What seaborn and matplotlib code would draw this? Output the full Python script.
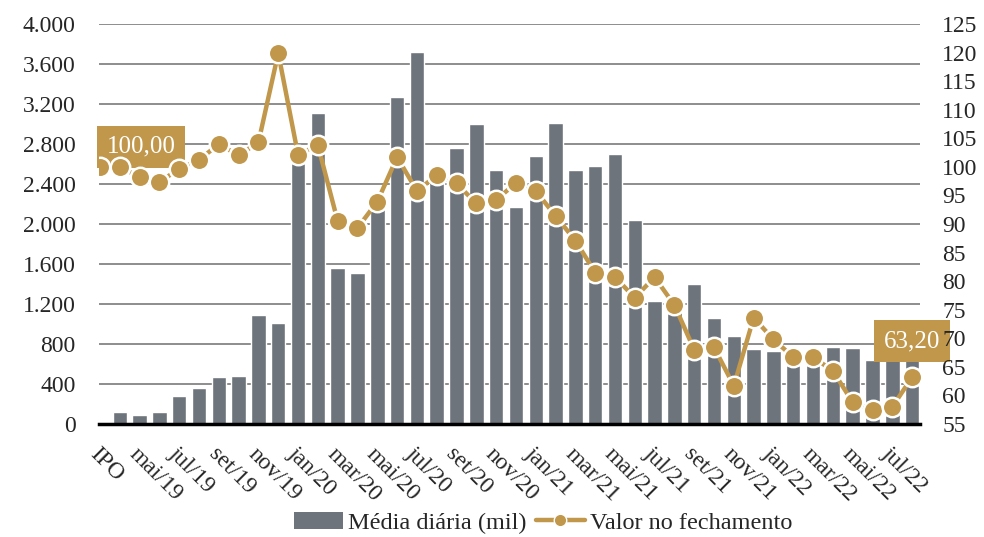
import numpy as np
import pandas as pd
import matplotlib
matplotlib.use("Agg")
import matplotlib.pyplot as plt
import seaborn as sns
from matplotlib.ticker import FuncFormatter
from matplotlib.lines import Line2D
from matplotlib.patches import Patch

# dados
meses = ["IPO", "abr/19", "mai/19", "jun/19", "jul/19", "ago/19", "set/19", "out/19",
         "nov/19", "dez/19", "jan/20", "fev/20", "mar/20", "abr/20", "mai/20", "jun/20",
         "jul/20", "ago/20", "set/20", "out/20", "nov/20", "dez/20", "jan/21", "fev/21",
         "mar/21", "abr/21", "mai/21", "jun/21", "jul/21", "ago/21", "set/21", "out/21",
         "nov/21", "dez/21", "jan/22", "fev/22", "mar/22", "abr/22", "mai/22", "jun/22",
         "jul/22", "ago/22"]
media_diaria = [0, 120, 90, 120, 285, 357, 470, 483, 1090, 1013, 2660, 3107, 1557, 1510,
                2200, 3270, 3723, 2430, 2757, 3003, 2540, 2170, 2677, 3013, 2543, 2580,
                2700, 2040, 1235, 1220, 1397, 1060, 877, 753, 727, 690, 690, 773, 760,
                640, 640, 650]
valor_fechamento = [100.0, 100.0, 98.2, 97.3, 99.7, 101.2, 104.0, 102.0, 104.3, 119.9,
                    102.1, 103.8, 90.5, 89.3, 93.9, 101.7, 95.8, 98.5, 97.1, 93.6, 94.2,
                    97.2, 95.8, 91.4, 87.1, 81.5, 80.7, 77.1, 80.7, 75.8, 68.0, 68.4,
                    61.7, 73.6, 69.8, 66.7, 66.7, 64.3, 58.8, 57.5, 58.0, 63.2]
rotulos_x = ["IPO", "mai/19", "jul/19", "set/19", "nov/19", "jan/20", "mar/20", "mai/20",
             "jul/20", "set/20", "nov/20", "jan/21", "mar/21", "mai/21", "jul/21", "set/21",
             "nov/21", "jan/22", "mar/22", "mai/22", "jul/22"]

cinza = "#6d747b"
dourado = "#c0974b"

sns.set_style("white")
plt.rcParams["font.family"] = ["Liberation Serif", "DejaVu Serif"]
plt.rcParams["font.size"] = 17

df = pd.DataFrame({"mes": meses, "media": media_diaria, "valor": valor_fechamento})
pos = np.arange(len(df))

fig = plt.figure(figsize=(9.84, 5.37), dpi=100)
ax = fig.add_axes([0.1006, 0.2104, 0.8344, 0.7449])

sns.barplot(data=df, x="mes", y="media", color=cinza, width=0.73, saturation=1,
            ax=ax, zorder=2)
ax.set_ylim(0, 4000)
ax.set_yticks(np.arange(0, 4001, 400))
ax.yaxis.set_major_formatter(FuncFormatter(lambda v, p: f"{int(v):,}".replace(",", ".")))
ax.grid(axis="y", color="#858585", linewidth=1.3, zorder=0)
ax.set_axisbelow(True)
ax.set_xlim(-0.05, 41.4)
ax.set_xticks(pos[::2])
ax.set_xticklabels(rotulos_x, rotation=-45, ha="left", va="top", rotation_mode="anchor")
ax.tick_params(axis="x", length=0, pad=14)
ax.tick_params(axis="y", length=0, pad=17)
ax.set_xlabel("")
ax.set_ylabel("")
for s in ["top", "right", "left"]:
    ax.spines[s].set_visible(False)
ax.spines["bottom"].set_color("black")
ax.spines["bottom"].set_linewidth(2.5)
ax.spines["bottom"].set_zorder(5)

ax2 = ax.twinx()
sns.lineplot(x=pos, y=df["valor"], ax=ax2, color=dourado, linewidth=3.2, marker="o",
             markersize=14, markerfacecolor=dourado, markeredgecolor="white",
             markeredgewidth=1.8, zorder=3)
ax2.set_ylim(55, 125)
ax2.set_yticks(np.arange(55, 126, 5))
ax2.tick_params(axis="y", length=0, pad=16)
ax2.set_ylabel("")
ax2.grid(False)
for s in ["top", "right", "left", "bottom"]:
    ax2.spines[s].set_visible(False)
ax2.set_xlim(-0.05, 41.4)

caixa = dict(boxstyle="square,pad=0.4", fc=dourado, ec="none")
ax2.annotate("100,00", xy=(pos[0], valor_fechamento[0]), xytext=(41, 20),
             textcoords="offset pixels", ha="center", va="center", color="white",
             fontsize=18, bbox=caixa, zorder=0.3, annotation_clip=False)
ax2.annotate("63,20", xy=(pos[-1], valor_fechamento[-1]), xytext=(0, 36),
             textcoords="offset pixels", ha="center", va="center", color="white",
             fontsize=18, bbox=caixa, zorder=0.3, annotation_clip=False)

handles = [Patch(facecolor=cinza, edgecolor="none"),
           Line2D([], [], color=dourado, linewidth=3.2, marker="o", markersize=9,
                  markerfacecolor=dourado, markeredgecolor="white")]
fig.legend(handles, ["Média diária (mil)", "Valor no fechamento"], loc="lower center",
           bbox_to_anchor=(0.552, -0.035), ncol=2, frameon=False, fontsize=17.5,
           handlelength=2.0, handletextpad=0.2, columnspacing=0.4)

fig.savefig("out.png", dpi=100)
